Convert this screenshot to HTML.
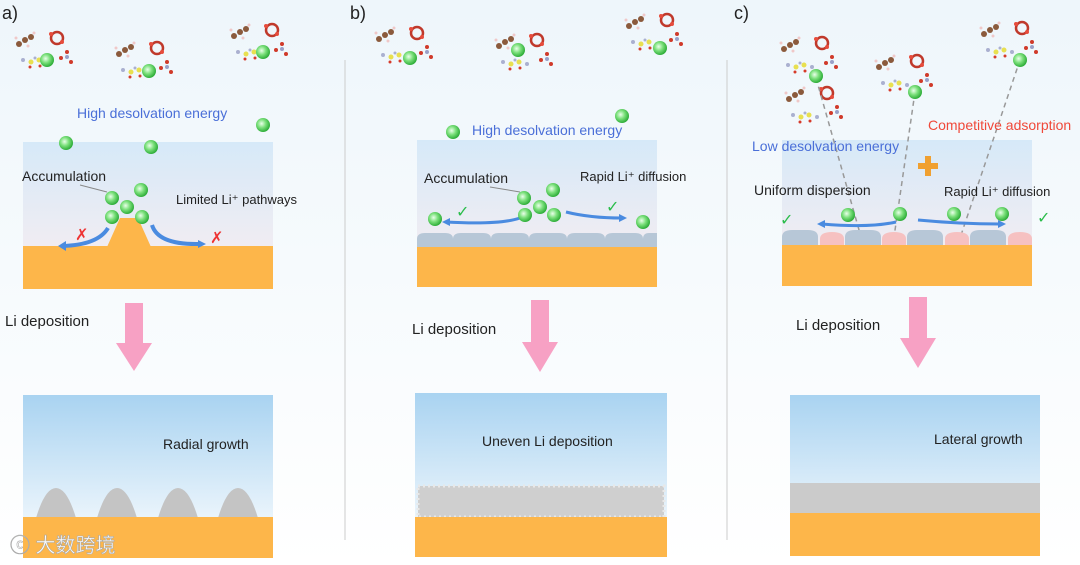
<!DOCTYPE html>
<html><head><meta charset="utf-8"><style>
body{margin:0;background:#fff}
svg{display:block}
text{font-family:"Liberation Sans",Arial,sans-serif}
</style></head><body>
<svg width="1080" height="565" viewBox="0 0 1080 565" xmlns="http://www.w3.org/2000/svg">
<defs>
<radialGradient id="li" cx="0.4" cy="0.4" r="0.6"><stop offset="0" stop-color="#eaffea"/><stop offset="0.5" stop-color="#7be07b"/><stop offset="1" stop-color="#2fae3a"/></radialGradient>
<linearGradient id="tb" x1="0" y1="0" x2="0" y2="1"><stop offset="0" stop-color="#d6e9f8"/><stop offset="1" stop-color="#fbeef0"/></linearGradient>
<linearGradient id="bb" x1="0" y1="0" x2="0" y2="1"><stop offset="0" stop-color="#a9d3f1"/><stop offset="1" stop-color="#ffffff"/></linearGradient>
<linearGradient id="bg" x1="0" y1="0" x2="0" y2="1"><stop offset="0" stop-color="#eef6fb"/><stop offset="1" stop-color="#ffffff"/></linearGradient>
<g id="ion"><circle r="7" fill="url(#li)"/></g>
<g id="mol">
<g fill="#8b5a3c"><circle cx="0" cy="0" r="3"/><circle cx="6" cy="-3" r="3"/><circle cx="-6" cy="4" r="3"/></g>
<g fill="#f0c8c8"><circle cx="-9" cy="-2" r="1.5"/><circle cx="9" cy="-7" r="1.5"/><circle cx="3" cy="6" r="1.5"/></g>
<g fill="none" stroke="#c0392b" stroke-width="2.5"><circle cx="32" cy="-2" r="6"/></g>
<g fill="#e74c3c"><circle cx="26" cy="-6" r="2"/><circle cx="37" cy="2" r="2"/></g>
<g fill="#e8e050"><circle cx="6" cy="22" r="2.5"/><circle cx="14" cy="20" r="2.5"/></g>
<g fill="#aab0d0"><circle cx="-2" cy="20" r="2"/><circle cx="22" cy="22" r="2"/><circle cx="10" cy="18" r="1.5"/></g>
<g fill="#d63a2a"><circle cx="5" cy="27" r="1.5"/><circle cx="15" cy="26" r="1.5"/></g>
<g fill="#d03a2a"><circle cx="42" cy="12" r="2"/><circle cx="46" cy="22" r="2"/><circle cx="36" cy="18" r="2"/></g>
<circle cx="42" cy="17" r="2" fill="#9aa0c8"/>
</g>
</defs>
<rect width="1080" height="565" fill="url(#bg)"/>
<line x1="345" y1="60" x2="345" y2="540" stroke="#ccc"/>
<line x1="727" y1="60" x2="727" y2="540" stroke="#ccc"/>

<!-- Panel a -->
<text x="2" y="19" font-size="18" fill="#222">a)</text>
<use href="#mol" x="25" y="40"/><use href="#mol" x="125" y="50"/><use href="#mol" x="240" y="32"/>
<use href="#ion" x="47" y="60"/><use href="#ion" x="149" y="71"/><use href="#ion" x="263" y="52"/>
<text x="77" y="118" font-size="14" fill="#4a6fd8">High desolvation energy</text>
<use href="#ion" x="263" y="125"/>
<rect x="23" y="142" width="250" height="147" fill="url(#tb)"/>
<use href="#ion" x="66" y="143"/><use href="#ion" x="151" y="147"/>
<rect x="23" y="246" width="250" height="43" fill="#fdb64a"/>
<path d="M107 247 L120 218 L138 218 L151 247Z" fill="#fdb64a"/>
<text x="22" y="181" font-size="14" fill="#222">Accumulation</text>
<line x1="80" y1="185" x2="107" y2="192" stroke="#888"/>
<text x="176" y="204" font-size="13" fill="#222">Limited Li⁺ pathways</text>
<path d="M108 228 Q98 245 62 246" stroke="#4a8be0" stroke-width="4" fill="none"/>
<path d="M58 246 l8 -5 v10z" fill="#4a8be0"/>
<path d="M152 225 Q158 245 200 244" stroke="#4a8be0" stroke-width="4" fill="none"/>
<path d="M206 244 l-8 -4 v8z" fill="#4a8be0"/>
<use href="#ion" x="112" y="198"/><use href="#ion" x="141" y="190"/><use href="#ion" x="127" y="207"/><use href="#ion" x="112" y="217"/><use href="#ion" x="142" y="217"/>
<text x="75" y="240" font-size="16" fill="#e33">✗</text><text x="210" y="243" font-size="16" fill="#e33">✗</text>
<text x="5" y="326" font-size="15" fill="#222">Li deposition</text>
<path d="M125 303 h18 v40 h9 l-18 28 l-18 -28 h9z" fill="#f7a1c4"/>
<rect x="23" y="395" width="250" height="163" fill="url(#bb)"/>
<text x="163" y="449" font-size="14" fill="#222">Radial growth</text>
<g fill="#c4c4c4"><path d="M36 518 Q45 488 56 488 Q67 488 76 518Z"/><path d="M97 518 Q106 488 117 488 Q128 488 137 518Z"/><path d="M158 518 Q167 488 178 488 Q189 488 198 518Z"/><path d="M218 518 Q227 488 238 488 Q249 488 258 518Z"/></g>
<rect x="23" y="517" width="250" height="41" fill="#fdb64a"/>
<text x="10" y="552" font-size="20" fill="#fff" stroke="#aaa" stroke-width="0.6" font-family="'Noto Sans CJK SC',sans-serif">ⓒ 大数跨境</text>

<!-- Panel b -->
<text x="350" y="19" font-size="18" fill="#222">b)</text>
<use href="#mol" x="385" y="35"/><use href="#mol" x="505" y="42"/><use href="#mol" x="635" y="22"/>
<use href="#ion" x="410" y="58"/><use href="#ion" x="518" y="50"/><use href="#ion" x="660" y="48"/>
<use href="#ion" x="453" y="132"/><use href="#ion" x="622" y="116"/>
<rect x="417" y="140" width="240" height="147" fill="url(#tb)"/>
<text x="472" y="135" font-size="14" fill="#4a6fd8">High desolvation energy</text>
<g fill="#b7c7d7"><path d="M417 247 v-8 q0 -6 8 -6 h20 q8 0 8 6 v8z"/><path d="M453 247 v-8 q0 -6 8 -6 h22 q8 0 8 6 v8z"/><path d="M491 247 v-8 q0 -6 8 -6 h22 q8 0 8 6 v8z"/><path d="M529 247 v-8 q0 -6 8 -6 h22 q8 0 8 6 v8z"/><path d="M567 247 v-8 q0 -6 8 -6 h22 q8 0 8 6 v8z"/><path d="M605 247 v-8 q0 -6 8 -6 h22 q8 0 8 6 v8z"/><path d="M643 247 v-8 q0 -6 6 -6 h8 v14z"/></g>
<rect x="417" y="247" width="240" height="40" fill="#fdb64a"/>
<text x="424" y="183" font-size="14" fill="#222">Accumulation</text>
<line x1="490" y1="187" x2="520" y2="192" stroke="#888"/>
<text x="580" y="181" font-size="13" fill="#222">Rapid Li⁺ diffusion</text>
<path d="M520 218 Q500 225 446 222" stroke="#4a8be0" stroke-width="3" fill="none"/><path d="M442 222 l8 -4 v8z" fill="#4a8be0"/>
<path d="M566 212 Q590 218 622 218" stroke="#4a8be0" stroke-width="3" fill="none"/><path d="M627 218 l-8 -4 v8z" fill="#4a8be0"/>
<use href="#ion" x="524" y="198"/><use href="#ion" x="553" y="190"/><use href="#ion" x="540" y="207"/><use href="#ion" x="525" y="215"/><use href="#ion" x="554" y="215"/><use href="#ion" x="435" y="219"/><use href="#ion" x="643" y="222"/>
<text x="456" y="217" font-size="16" fill="#2bbd4b">✓</text><text x="606" y="212" font-size="16" fill="#2bbd4b">✓</text>
<text x="412" y="334" font-size="15" fill="#222">Li deposition</text>
<path d="M531 300 h18 v42 h9 l-18 30 l-18 -30 h9z" fill="#f7a1c4"/>
<rect x="415" y="393" width="252" height="164" fill="url(#bb)"/>
<text x="482" y="446" font-size="14" fill="#222">Uneven Li deposition</text>
<rect x="418" y="486" width="246" height="31" fill="#cfcfcf"/>
<rect x="418" y="486" width="246" height="31" fill="none" stroke="#e8e8e8" stroke-width="3" stroke-dasharray="2 3"/>
<rect x="415" y="517" width="252" height="40" fill="#fdb64a"/>

<!-- Panel c -->
<text x="734" y="19" font-size="18" fill="#222">c)</text>
<use href="#mol" x="790" y="45"/><use href="#mol" x="885" y="63"/><use href="#mol" x="990" y="30"/>
<use href="#mol" x="795" y="95" transform="scale(1)"/>
<rect x="782" y="140" width="250" height="146" fill="url(#tb)"/>
<g stroke="#999" stroke-width="1.5" stroke-dasharray="5 4" fill="none"><line x1="816" y1="78" x2="863" y2="244"/><line x1="915" y1="92" x2="893" y2="244"/><line x1="1020" y1="60" x2="958" y2="244"/></g>
<use href="#ion" x="816" y="76"/><use href="#ion" x="915" y="92"/><use href="#ion" x="1020" y="60"/>
<text x="752" y="151" font-size="14" fill="#4a6fd8">Low desolvation energy</text>
<text x="928" y="130" font-size="14" fill="#f0493a">Competitive adsorption</text>
<path d="M925 156 h6 v7 h7 v6 h-7 v7 h-6 v-7 h-7 v-6 h7z" fill="#f0a030"/>
<text x="754" y="195" font-size="14" fill="#222">Uniform dispersion</text>
<text x="944" y="196" font-size="13" fill="#222">Rapid Li⁺ diffusion</text>
<g fill="#b7c7d7"><path d="M782 245 v-8 q0 -7 10 -7 h16 q10 0 10 7 v8z"/><path d="M845 245 v-8 q0 -7 10 -7 h16 q10 0 10 7 v8z"/><path d="M907 245 v-8 q0 -7 10 -7 h16 q10 0 10 7 v8z"/><path d="M970 245 v-8 q0 -7 10 -7 h16 q10 0 10 7 v8z"/></g>
<g fill="#f6c1c1"><path d="M820 245 v-6 q0 -7 12 -7 q12 0 12 7 v6z"/><path d="M882 245 v-6 q0 -7 12 -7 q12 0 12 7 v6z"/><path d="M945 245 v-6 q0 -7 12 -7 q12 0 12 7 v6z"/><path d="M1008 245 v-6 q0 -7 12 -7 q12 0 12 7 v6z"/></g>
<rect x="782" y="245" width="250" height="41" fill="#fdb64a"/>
<path d="M896 222 Q870 228 822 224" stroke="#4a8be0" stroke-width="3" fill="none"/><path d="M817 224 l8 -4 v8z" fill="#4a8be0"/>
<path d="M918 220 Q960 224 1000 224" stroke="#4a8be0" stroke-width="3" fill="none"/><path d="M1006 224 l-8 -4 v8z" fill="#4a8be0"/>
<use href="#ion" x="848" y="215"/><use href="#ion" x="900" y="214"/><use href="#ion" x="954" y="214"/><use href="#ion" x="1002" y="214"/>
<text x="780" y="225" font-size="16" fill="#2bbd4b">✓</text><text x="1037" y="223" font-size="16" fill="#2bbd4b">✓</text>
<text x="796" y="330" font-size="15" fill="#222">Li deposition</text>
<path d="M909 297 h18 v41 h9 l-18 30 l-18 -30 h9z" fill="#f7a1c4"/>
<rect x="790" y="395" width="250" height="161" fill="url(#bb)"/>
<text x="934" y="444" font-size="14" fill="#222">Lateral growth</text>
<rect x="790" y="483" width="250" height="30" fill="#cbcbcb"/>
<rect x="790" y="513" width="250" height="43" fill="#fdb64a"/>
</svg>
</body></html>
